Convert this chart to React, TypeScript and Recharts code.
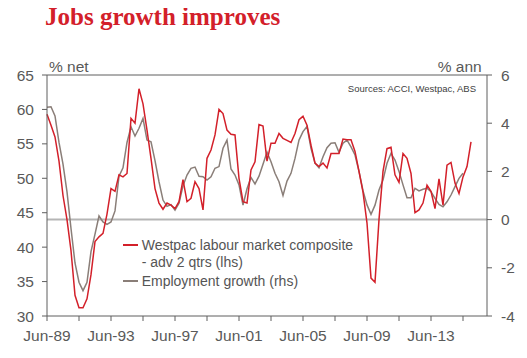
import { LineChart, Line, XAxis, YAxis, ReferenceLine, Legend } from 'recharts';

// Westpac labour market composite, advanced 2 quarters (lhs, % net), quarterly from Jun-89
const composite = [
  59.3, 57.7, 56.0, 52.5, 47.5, 44.0, 39.5, 33.0, 31.2, 31.2,
  32.5, 36.0, 40.8, 41.5, 42.0, 44.8, 48.5, 48.1, 50.5, 50.2,
  50.7, 58.7, 58.0, 63.0, 60.8, 57.0, 52.9, 48.5, 46.4, 45.5,
  46.4, 46.1, 45.6, 46.6, 49.8, 46.6, 47.1, 49.5, 48.5, 45.4,
  52.9, 54.1, 56.3, 60.0, 59.4, 57.0, 56.4, 56.3, 50.0, 46.6,
  46.4, 51.2, 52.4, 57.8, 57.6, 52.5, 55.1, 55.1, 56.5, 55.8,
  55.5, 55.2, 56.5, 58.5, 59.0, 57.7, 54.8, 52.2, 51.7, 52.2,
  51.5, 53.6, 53.6, 53.6, 55.7, 55.6, 55.6, 53.9, 51.0, 48.0,
  43.5, 35.5, 34.9, 44.0, 51.0, 54.3, 54.5, 50.5, 49.4, 53.6,
  52.9, 50.7, 45.0, 45.4, 46.4, 49.0, 48.1, 45.6, 49.9, 46.1,
  51.9, 52.3, 49.3, 47.8, 50.2, 51.7, 55.3,
];

// Employment growth (rhs, % annual), quarterly from Jun-89
const employment = [
  4.66, 4.68, 4.3, 3.2, 2.3, 1.15, -0.37, -1.8, -2.6, -2.95,
  -2.6, -1.33, -0.6, 0.15, -0.1, -0.2, -0.1, 0.36, 1.8, 2.15,
  3.2, 3.85, 3.47, 3.79, 4.2, 3.3, 3.23, 2.45, 1.57, 0.81,
  0.55, 0.62, 0.39, 0.68, 1.4, 1.85, 2.13, 2.18, 1.8, 1.78,
  1.64, 1.78, 2.13, 2.2, 2.96, 3.3, 2.1, 1.85, 1.44, 0.6,
  1.28, 1.75, 1.48, 1.8, 2.3, 2.8, 2.4, 1.92, 1.57, 1.0,
  1.6, 1.92, 2.54, 3.3, 3.65, 3.86, 2.96, 2.34, 2.15, 2.61,
  2.98, 3.17, 3.19, 2.79, 3.17, 3.3, 3.02, 2.68, 2.0, 1.2,
  0.61, 0.22, 0.6, 1.23, 1.64, 2.34, 2.75, 2.47, 2.0, 1.44,
  0.91, 0.91, 1.3, 1.19, 1.26, 1.3, 1.16, 0.88, 0.63, 0.53,
  0.74, 1.02, 1.37, 1.71, 1.92,
];

// x ticks every 8 quarters, labelled every 16
const xTicks = [0, 8, 16, 24, 32, 40, 48, 56, 64, 72, 80, 88, 96, 104];
const xTickLabels: Record<number, string> = {
  0: 'Jun-89', 16: 'Jun-93', 32: 'Jun-97', 48: 'Jun-01', 64: 'Jun-05', 80: 'Jun-09', 96: 'Jun-13',
};
const leftTicks = [30, 35, 40, 45, 50, 55, 60, 65];
const rightTicks = [-4, -2, 0, 2, 4, 6];

const RED = '#d3202a';
const GREY = '#8a7e78';
const AXIS = '#5f5f5f';
const FONT = '"Liberation Sans", Arial, sans-serif';

const data = composite.map((v, i) => ({
  q: i,
  composite: v,
  employment: i < employment.length ? employment[i] : null,
}));

const renderLegend = () => (
  <svg width={260} height={60} style={{ display: 'block' }}>
    <line x1={3} x2={18} y1={10} y2={10} stroke={RED} strokeWidth={2} />
    <text x={21.7} y={10} dy="0.355em" fontSize={14} fill="#555" fontFamily={FONT}>
      Westpac labour market composite
    </text>
    <text x={21.7} y={27} dy="0.355em" fontSize={14} fill="#555" fontFamily={FONT}>
      - adv 2 qtrs (lhs)
    </text>
    <line x1={3} x2={18} y1={46} y2={46} stroke={GREY} strokeWidth={2} />
    <text x={21.7} y={46} dy="0.355em" fontSize={14} fill="#555" fontFamily={FONT}>
      Employment growth (rhs)
    </text>
  </svg>
);

export default function App() {
  const tickStyle = { fontSize: 15.5, fill: '#595959', fontFamily: FONT };
  return (
    <div style={{ position: 'relative', width: 527, height: 358, margin: -8, background: '#fff' }}>
      <LineChart
        width={527}
        height={358}
        data={data}
        margin={{ top: 75, right: 0, bottom: 12, left: 0 }}
      >
        <XAxis
          dataKey="q"
          type="number"
          domain={[0, 110]}
          ticks={xTicks}
          interval={0}
          height={30}
          tickSize={5}
          tickMargin={9}
          stroke={AXIS}
          tick={tickStyle}
          tickFormatter={(v: number) => xTickLabels[v] ?? ''}
        />
        <YAxis
          yAxisId="left"
          orientation="left"
          domain={[30, 65]}
          ticks={leftTicks}
          interval={0}
          width={47}
          tickSize={5}
          tickMargin={8}
          stroke={AXIS}
          tick={tickStyle}
        />
        <YAxis
          yAxisId="right"
          orientation="right"
          domain={[-4, 6]}
          ticks={rightTicks}
          interval={0}
          width={40}
          tickSize={5}
          tickMargin={9}
          stroke={AXIS}
          tick={{ ...tickStyle, textAnchor: 'start' }}
        />
        <ReferenceLine yAxisId="left" y={65} stroke={AXIS} strokeWidth={1} />
        <ReferenceLine yAxisId="right" y={0} stroke="#b5b5b5" strokeWidth={2} />
        <Line
          yAxisId="right"
          type="linear"
          dataKey="employment"
          stroke={GREY}
          strokeWidth={1.5}
          dot={false}
          isAnimationActive={false}
        />
        <Line
          yAxisId="left"
          type="linear"
          dataKey="composite"
          stroke={RED}
          strokeWidth={1.5}
          dot={false}
          isAnimationActive={false}
        />
        <Legend
          layout="vertical"
          align="center"
          verticalAlign="middle"
          content={renderLegend}
          wrapperStyle={{ left: 120, top: 235, width: 260, height: 60 }}
        />
      </LineChart>
      <svg
        width={527}
        height={358}
        style={{ position: 'absolute', left: 0, top: 0, pointerEvents: 'none' }}
      >
        <text x={45} y={25} fontSize={25} fontWeight="bold" fill={RED} fontFamily='"Liberation Serif", "Times New Roman", serif'>
          Jobs growth improves
        </text>
        <text x={49} y={71.5} fontSize={15.5} fill="#595959" fontFamily={FONT}>% net</text>
        <text x={481.7} y={71.5} fontSize={15.5} fill="#595959" fontFamily={FONT} textAnchor="end">% ann</text>
        <text x={476} y={91.5} fontSize={9.5} fill="#404040" fontFamily={FONT} textAnchor="end">
          Sources: ACCI, Westpac, ABS
        </text>
      </svg>
    </div>
  );
}
